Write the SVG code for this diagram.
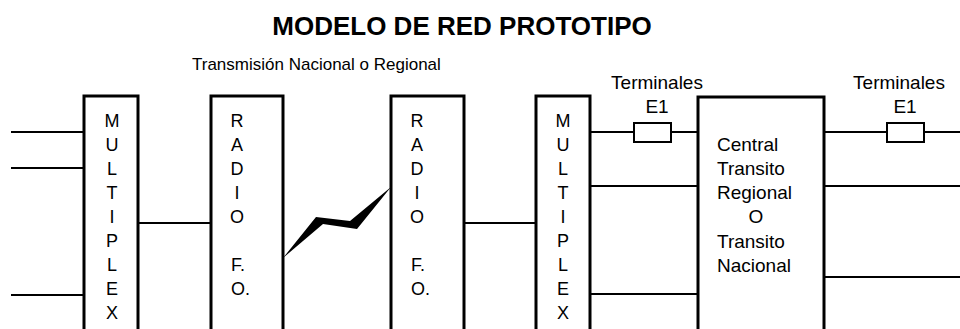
<svg xmlns="http://www.w3.org/2000/svg" width="960" height="329" viewBox="0 0 960 329">
<style>
.box{fill:#fff;stroke:#000;stroke-width:3}
.ln{stroke:#000;stroke-width:2;fill:none}
.term{fill:#fff;stroke:#000;stroke-width:2}
.t{font-family:"Liberation Sans",Arial,sans-serif;fill:#000}
.v{font-size:18px;text-anchor:middle}
.m{font-size:19px}
.c{text-anchor:middle}
</style>
<rect width="960" height="329" fill="#fff"/>
<text class="t" x="462" y="35" font-size="26" font-weight="bold" text-anchor="middle">MODELO DE RED PROTOTIPO</text>
<text class="t" x="192" y="70" font-size="17">Transmisión Nacional o Regional</text>
<g id="connectors">
<line class="ln" x1="11" y1="132" x2="84" y2="132"/>
<line class="ln" x1="11" y1="168" x2="84" y2="168"/>
<line class="ln" x1="11" y1="295" x2="84" y2="295"/>
<line class="ln" x1="138" y1="223" x2="211" y2="223"/>
<line class="ln" x1="464" y1="223" x2="536" y2="223"/>
<line class="ln" x1="590" y1="132" x2="698" y2="132"/>
<line class="ln" x1="590" y1="186" x2="698" y2="186"/>
<line class="ln" x1="590" y1="294" x2="698" y2="294"/>
<line class="ln" x1="824" y1="132" x2="960" y2="132"/>
<line class="ln" x1="824" y1="186" x2="960" y2="186"/>
<line class="ln" x1="824" y1="277" x2="960" y2="277"/>
<polygon points="283,258 316,217 350,221 391,187 357,229 323,224" fill="#000"/>
</g>
<g id="mux1">
<rect class="box" x="84" y="96" width="54" height="250"/>
<text class="t v" x="112"><tspan x="112" y="127">M</tspan><tspan x="112" y="151">U</tspan><tspan x="112" y="175">L</tspan><tspan x="112" y="199">T</tspan><tspan x="112" y="223">I</tspan><tspan x="112" y="247">P</tspan><tspan x="112" y="271">L</tspan><tspan x="112" y="295">E</tspan><tspan x="112" y="319">X</tspan></text>
</g>
<g id="radio1">
<rect class="box" x="211" y="96" width="72" height="250"/>
<text class="t v"><tspan x="237" y="127">R</tspan><tspan x="237" y="151">A</tspan><tspan x="237" y="175">D</tspan><tspan x="237" y="199">I</tspan><tspan x="237" y="223">O</tspan></text>
<text class="t" font-size="18"><tspan x="231" y="271">F.</tspan><tspan x="231" y="295">O.</tspan></text>
</g>
<g id="radio2">
<rect class="box" x="391" y="96" width="73" height="250"/>
<text class="t v"><tspan x="417" y="127">R</tspan><tspan x="417" y="151">A</tspan><tspan x="417" y="175">D</tspan><tspan x="417" y="199">I</tspan><tspan x="417" y="223">O</tspan></text>
<text class="t" font-size="18"><tspan x="411" y="271">F.</tspan><tspan x="411" y="295">O.</tspan></text>
</g>
<g id="mux2">
<rect class="box" x="536" y="96" width="54" height="250"/>
<text class="t v"><tspan x="563" y="127">M</tspan><tspan x="563" y="151">U</tspan><tspan x="563" y="175">L</tspan><tspan x="563" y="199">T</tspan><tspan x="563" y="223">I</tspan><tspan x="563" y="247">P</tspan><tspan x="563" y="271">L</tspan><tspan x="563" y="295">E</tspan><tspan x="563" y="319">X</tspan></text>
</g>
<g id="central">
<rect class="box" x="698" y="97" width="126" height="250"/>
<text class="t m"><tspan x="717" y="151">Central</tspan><tspan x="717" y="175">Transito</tspan><tspan x="717" y="199">Regional</tspan><tspan x="756" y="223" text-anchor="middle">O</tspan><tspan x="717" y="248">Transito</tspan><tspan x="717" y="272">Nacional</tspan></text>
</g>
<g id="term1">
<rect class="term" x="634" y="123" width="37" height="19"/>
<text class="t m c" x="657" y="89">Terminales</text>
<text class="t m c" x="657" y="113">E1</text>
</g>
<g id="term2">
<rect class="term" x="887" y="123" width="37" height="19"/>
<text class="t m c" x="899" y="89">Terminales</text>
<text class="t m c" x="905" y="113">E1</text>
</g>
</svg>
